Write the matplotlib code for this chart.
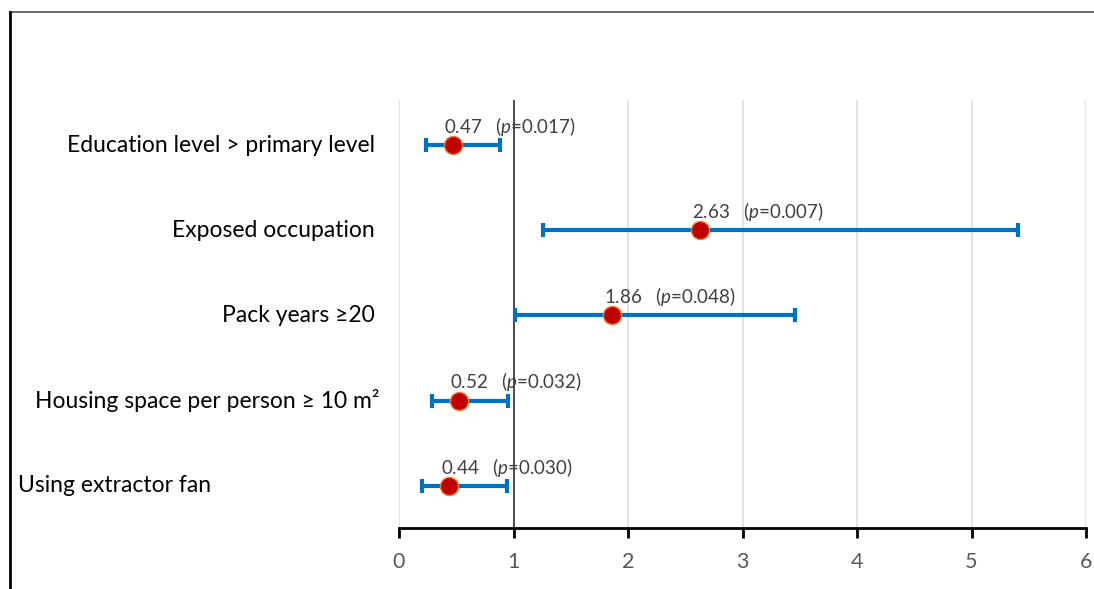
import matplotlib.pyplot as plt
import matplotlib.transforms as mtransforms
from matplotlib.lines import Line2D
import numpy as np

plt.rcParams['font.family'] = ['Lato', 'DejaVu Sans']
plt.rcParams['mathtext.fontset'] = 'custom'
plt.rcParams['mathtext.rm'] = 'Lato'
plt.rcParams['mathtext.it'] = 'Lato:italic'

# data, top row first
factors = ['Education level > primary level', 'Exposed occupation', 'Pack years \u226520',
           'Housing space per person \u2265 10 m\u00b2', 'Using extractor fan']
odds = [0.47, 2.63, 1.86, 0.52, 0.44]
ci_low = [0.24, 1.26, 1.01, 0.29, 0.20]
ci_high = [0.88, 5.41, 3.46, 0.95, 0.94]
pvals = ['0.017', '0.007', '0.048', '0.032', '0.030']

fig = plt.figure(figsize=[10.94, 5.89], dpi=100)
ax = fig.add_axes([399/1094, 61/589, 687/1094, 428/589])

ypos = np.arange(len(factors))[::-1] + 1
odds = np.array(odds)
err = [odds - np.array(ci_low), np.array(ci_high) - odds]

ax.set_xlim(0, 6)
ax.set_ylim(0.507, 5.528)
for gx in range(0, 7):
    ax.axvline(gx, color='#dedede', lw=1.2, zorder=0)
ax.axvline(1, color='#404040', lw=1.3, zorder=1)

ax.errorbar(odds, ypos, xerr=err, fmt='none', ecolor='#0070c0', elinewidth=3,
            capsize=5, capthick=3, zorder=2)
ax.plot(odds, ypos, 'o', ms=13, mfc='#c00000', mec='#f08030', mew=1, zorder=3)

for x, y, p in zip(odds, ypos, pvals):
    ax.annotate(f'{x:.2f}   ($\\it{{p}}$=' + p + ')', (x, y), xytext=(-6, 13.5),
                textcoords='offset points', ha='left', va='center',
                fontsize=13.5, color='#404040')

# category labels
tr = mtransforms.blended_transform_factory(fig.transFigure, ax.transData)
for i, (lab, y) in enumerate(zip(factors, ypos)):
    if i == len(factors) - 1:
        fig.text(18/1094, y, lab, transform=tr, ha='left', va='center', fontsize=16.5)
    elif i == 3:
        fig.text(207/1094, y, lab, transform=tr, ha='center', va='center', fontsize=16.5)
    else:
        fig.text(375/1094, y, lab, transform=tr, ha='right', va='center', fontsize=16.5)

for s in ['top', 'right', 'left']:
    ax.spines[s].set_visible(False)
ax.spines['bottom'].set_linewidth(2)
ax.set_yticks([])
ax.set_xticks(range(0, 7))
ax.tick_params(axis='x', length=7, width=2, colors='black', labelcolor='#595959',
               labelsize=15.5, pad=10)

# figure border lines
fig.add_artist(Line2D([10/1094, 1], [1 - 12/589, 1 - 12/589], transform=fig.transFigure,
                      color='#505050', lw=1.2))
fig.add_artist(Line2D([10/1094, 10/1094], [0, 1 - 12/589], transform=fig.transFigure,
                      color='black', lw=2))

fig.savefig('out.png', dpi=100)
